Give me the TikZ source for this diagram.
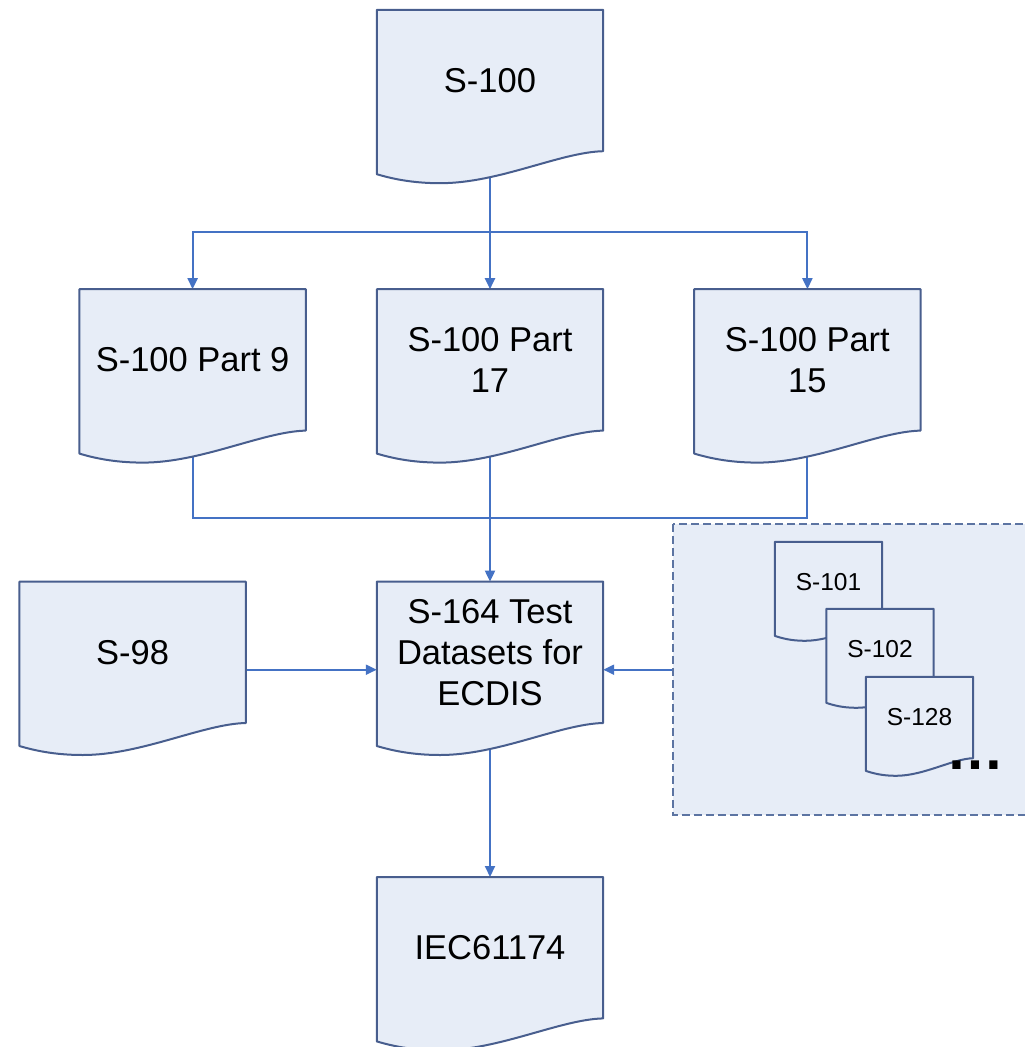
\documentclass[tikz,border=0pt]{standalone}
\usepackage{fontspec}
\setmainfont{Liberation Sans}
\usetikzlibrary{positioning, calc, arrows.meta}

\definecolor{docfill}{RGB}{231,237,247}
\definecolor{docline}{RGB}{72,94,142}
\definecolor{linkblue}{RGB}{68,114,196}
\definecolor{grpline}{RGB}{92,116,162}

\pgfdeclarelayer{links}
\pgfdeclarelayer{shapes}
\pgfsetlayers{links,shapes,main}

\begin{document}
\begin{tikzpicture}[
    x=1pt, y=1pt,
    every node/.style={font=\fontsize{34.5}{41}\selectfont, align=center, inner sep=0pt},
    doc/.style={minimum width=226pt, minimum height=141pt},
    smalldoc/.style={minimum width=107pt, minimum height=81pt, font=\fontsize{24.5}{29}\selectfont},
    docshape/.style={fill=docfill, draw=docline, line width=2pt, line join=round},
    grpbox/.style={fill=docfill, draw=grpline, line width=2pt, dash pattern=on 8pt off 4pt},
    wire/.style={draw=linkblue, line width=2pt},
    link/.style={wire, -{Triangle[length=11pt,width=10pt]}}
  ]
  \useasboundingbox (0,0) rectangle (1025,-1047);

  % documents
  \node[doc] (s100) at (490,-80.5) {S-100};
  \node[doc, below=138pt of s100] (part17) {S-100 Part\\17};
  \node[doc, left=71pt of part17] (part9) {S-100 Part 9};
  \node[doc, right=91pt of part17] (part15) {S-100 Part\\15};
  \node[doc, below=151pt of part17] (s164) {S-164 Test\\Datasets for\\ECDIS};
  \node[doc, left=131pt of s164] (s98) {S-98};
  \node[doc, below=154pt of s164] (iec) {IEC61174};

  % product specifications
  \node[minimum width=357pt, minimum height=291pt, anchor=north west] (grp) at (673,-524) {};
  \node[smalldoc] (s101) at (828.5,-582.5) {S-101};
  \node[smalldoc] (s102) at (880,-649.5) {S-102};
  \node[smalldoc] (s128) at (919.5,-717.5) {S-128};
  \node[font=\fontsize{58}{58}\bfseries\selectfont, anchor=base] (more) at (975.5,-769) {…};

  \coordinate[below=81pt of s100] (fork);
  \coordinate[below=87pt of part17] (join);

  \begin{pgfonlayer}{shapes}
    \draw[grpbox] (grp.north west) rectangle (grp.south east);
    \foreach \d/\h in {s100/1, part9/1, part17/1, part15/1, s98/1, s164/1, iec/1, s101/.55, s102/.55, s128/.55}
      \draw[docshape] (\d.north west) -- (\d.north east) -- (\d.south east)
        .. controls ($(\d.south west)!.81!(\d.south east)+(0,-1*\h)$) and ($(\d.south west)!.54!(\d.south east)+(0,-32*\h)$)
        .. ($(\d.south west)!.28!(\d.south east)+(0,-32*\h)$)
        .. controls ($(\d.south west)!.15!(\d.south east)+(0,-32*\h)$) and ($(\d.south west)!.06!(\d.south east)+(0,-27*\h)$)
        .. ($(\d.south west)+(0,-23*\h)$) -- cycle;
  \end{pgfonlayer}

  \begin{pgfonlayer}{links}
    \draw[link] (s100.south) -- (part17.north);
    \draw[link] (fork) -| (part9.north);
    \draw[link] (fork) -| (part15.north);
    \draw[wire] (part9.south) |- (join) -| (part15.south);
    \draw[link] (part17.south) -- (s164.north);
    \draw[link] (s98.east |- grp.west) -- (s164.west |- grp.west);
    \draw[link] (grp.west) -- (s164.east |- grp.west);
    \draw[link] (s164.south) -- (iec.north);
  \end{pgfonlayer}
\end{tikzpicture}
\end{document}
